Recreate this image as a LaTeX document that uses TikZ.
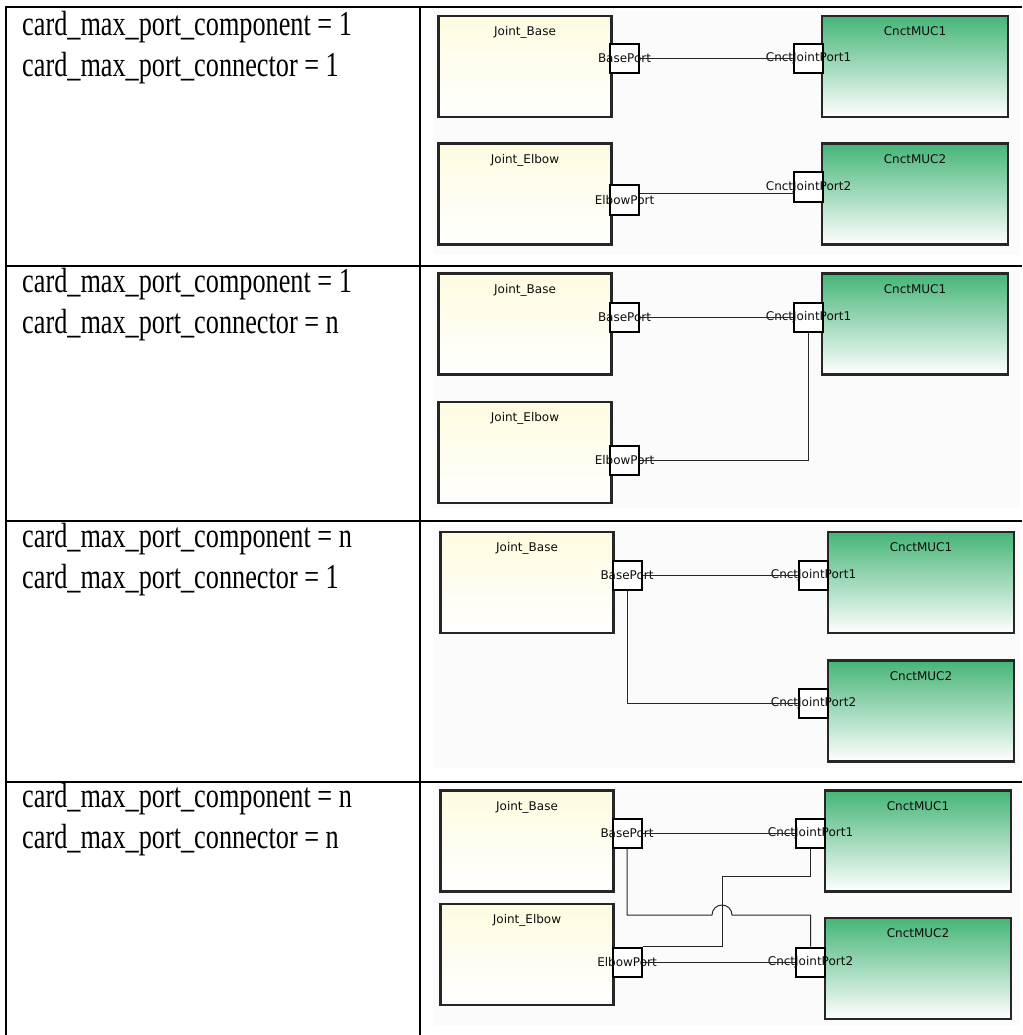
\documentclass[tikz,border=0pt]{standalone}
\usepackage{fontspec}
\setmainfont{Liberation Serif}
\newfontfamily\cardfont[FakeStretch=0.75]{Liberation Serif}
\newfontfamily\portfont{DejaVu Sans}
\usetikzlibrary{positioning}
\definecolor{jointyellow}{HTML}{FFFBE0}
\definecolor{mucgreen}{HTML}{45B577}
\definecolor{shotbg}{HTML}{FBFBFB}
\begin{document}
\begin{tikzpicture}[x=1pt, y=-1pt,
  rule/.style={line width=2.4pt},
  shot/.style={fill=shotbg},
  cardtxt/.style={font=\cardfont\fontsize{35}{40}\selectfont, inner sep=0, anchor=base west},
  lbl/.style={font=\portfont\fontsize{12}{14}\selectfont, text=black!95, inner sep=0},
  joint/.style={draw=black!85, line width=2.2pt, top color=jointyellow, bottom color=white, minimum width=173pt, minimum height=101pt, label={[lbl, anchor=base, yshift=-21pt]north:#1}},
  muc/.style={draw=black!85, line width=2.2pt, top color=mucgreen, bottom color=white, minimum width=186pt, minimum height=101pt, label={[lbl, anchor=base, yshift=-21pt]north:#1}},
  portbox/.style={draw=black, fill=white, line width=2pt, minimum width=29pt, minimum height=29pt, inner sep=0, label={[lbl]center:#1}},
  wire/.style={draw=black!85, line width=1pt}]
\useasboundingbox (0,0) rectangle (1022,1035);
\foreach \ya/\yb in {11/255, 270/508, 525/768, 786/1025} \fill[shot] (433,\ya) rectangle (1020,\yb);
\draw[rule] (6,1035) -- (6,7) -- (1022,7); \draw[rule] (420,7) -- (420,1035);
\foreach \y in {266, 521, 782} \draw[rule] (6,\y) -- (1022,\y);
\foreach \r/\yy/\a/\b in {1/36/1/1, 2/292/1/n, 3/547/n/1, 4/807/n/n} {
  \node[cardtxt] (comp\r) at (22,\yy) {card\_max\_port\_component = \a};
  \node[cardtxt] (conn\r) at (22,\yy+41) {card\_max\_port\_connector = \b};
}
\node[joint=Joint\_Base] (jb1) at (525,66.5) {}; \node[muc=CnctMUC1] (m11) at (915,66.5) {};
\node[joint=Joint\_Elbow] (je1) at (525,194) {}; \node[muc=CnctMUC2] (m21) at (915,194) {};
\node[portbox=BasePort] (bp1) at (624.5,58.5) {}; \node[portbox=CnctJointPort1] (cp11) at (808.5,58.5) {};
\node[portbox=ElbowPort] (ep1) at (624.5,200) {}; \node[portbox=CnctJointPort2] (cp21) at (808.5,187) {};
\draw[wire] (bp1) -- (cp11); \draw[wire] ([yshift=7pt]ep1.east) -- ([yshift=-6pt]cp21.west);
\node[joint=Joint\_Base] (jb2) at (525,324) {}; \node[muc=CnctMUC1] (m12) at (915,324) {};
\node[joint=Joint\_Elbow] (je2) at (525,452.5) {};
\node[portbox=BasePort] (bp2) at (624.5,317) {}; \node[portbox=CnctJointPort1] (cp12) at (808.5,317) {};
\node[portbox=ElbowPort] (ep2) at (624.5,460) {};
\draw[wire] (bp2) -- (cp12); \draw[wire] (ep2.east) -| (cp12.south);
\node[joint=Joint\_Base] (jb3) at (527,582.5) {}; \node[muc=CnctMUC1] (m13) at (921,582.5) {};
\node[muc=CnctMUC2] (m23) at (921,711) {};
\node[portbox=BasePort] (bp3) at (627,575) {}; \node[portbox=CnctJointPort1] (cp13) at (813.5,575) {};
\node[portbox=CnctJointPort2] (cp23) at (813.5,703) {};
\draw[wire] (bp3) -- (cp13); \draw[wire] (bp3.south) |- (cp23.west);
\node[joint=Joint\_Base] (jb4) at (527,841) {}; \node[muc=CnctMUC1] (m14) at (918,841) {};
\node[joint=Joint\_Elbow] (je4) at (527,954.5) {}; \node[muc=CnctMUC2] (m24) at (918,968.5) {};
\node[portbox=BasePort] (bp4) at (627,833.5) {}; \node[portbox=CnctJointPort1] (cp14) at (810.5,833.5) {};
\node[portbox=ElbowPort] (ep4) at (627,962) {}; \node[portbox=CnctJointPort2] (cp24) at (810.5,962) {};
\coordinate (hop4) at (722,915); \coordinate (bend4) at (722,876);
\draw[wire] (bp4) -- (cp14); \draw[wire] (ep4) -- (cp24);
\draw[wire] (ep4.north east) -| (bend4) -| (cp14.south);
\draw[wire] (bp4.south) |- ([xshift=-10pt]hop4) arc[start angle=180, end angle=0, radius=10pt] -| (cp24.north);
\end{tikzpicture}
\end{document}
